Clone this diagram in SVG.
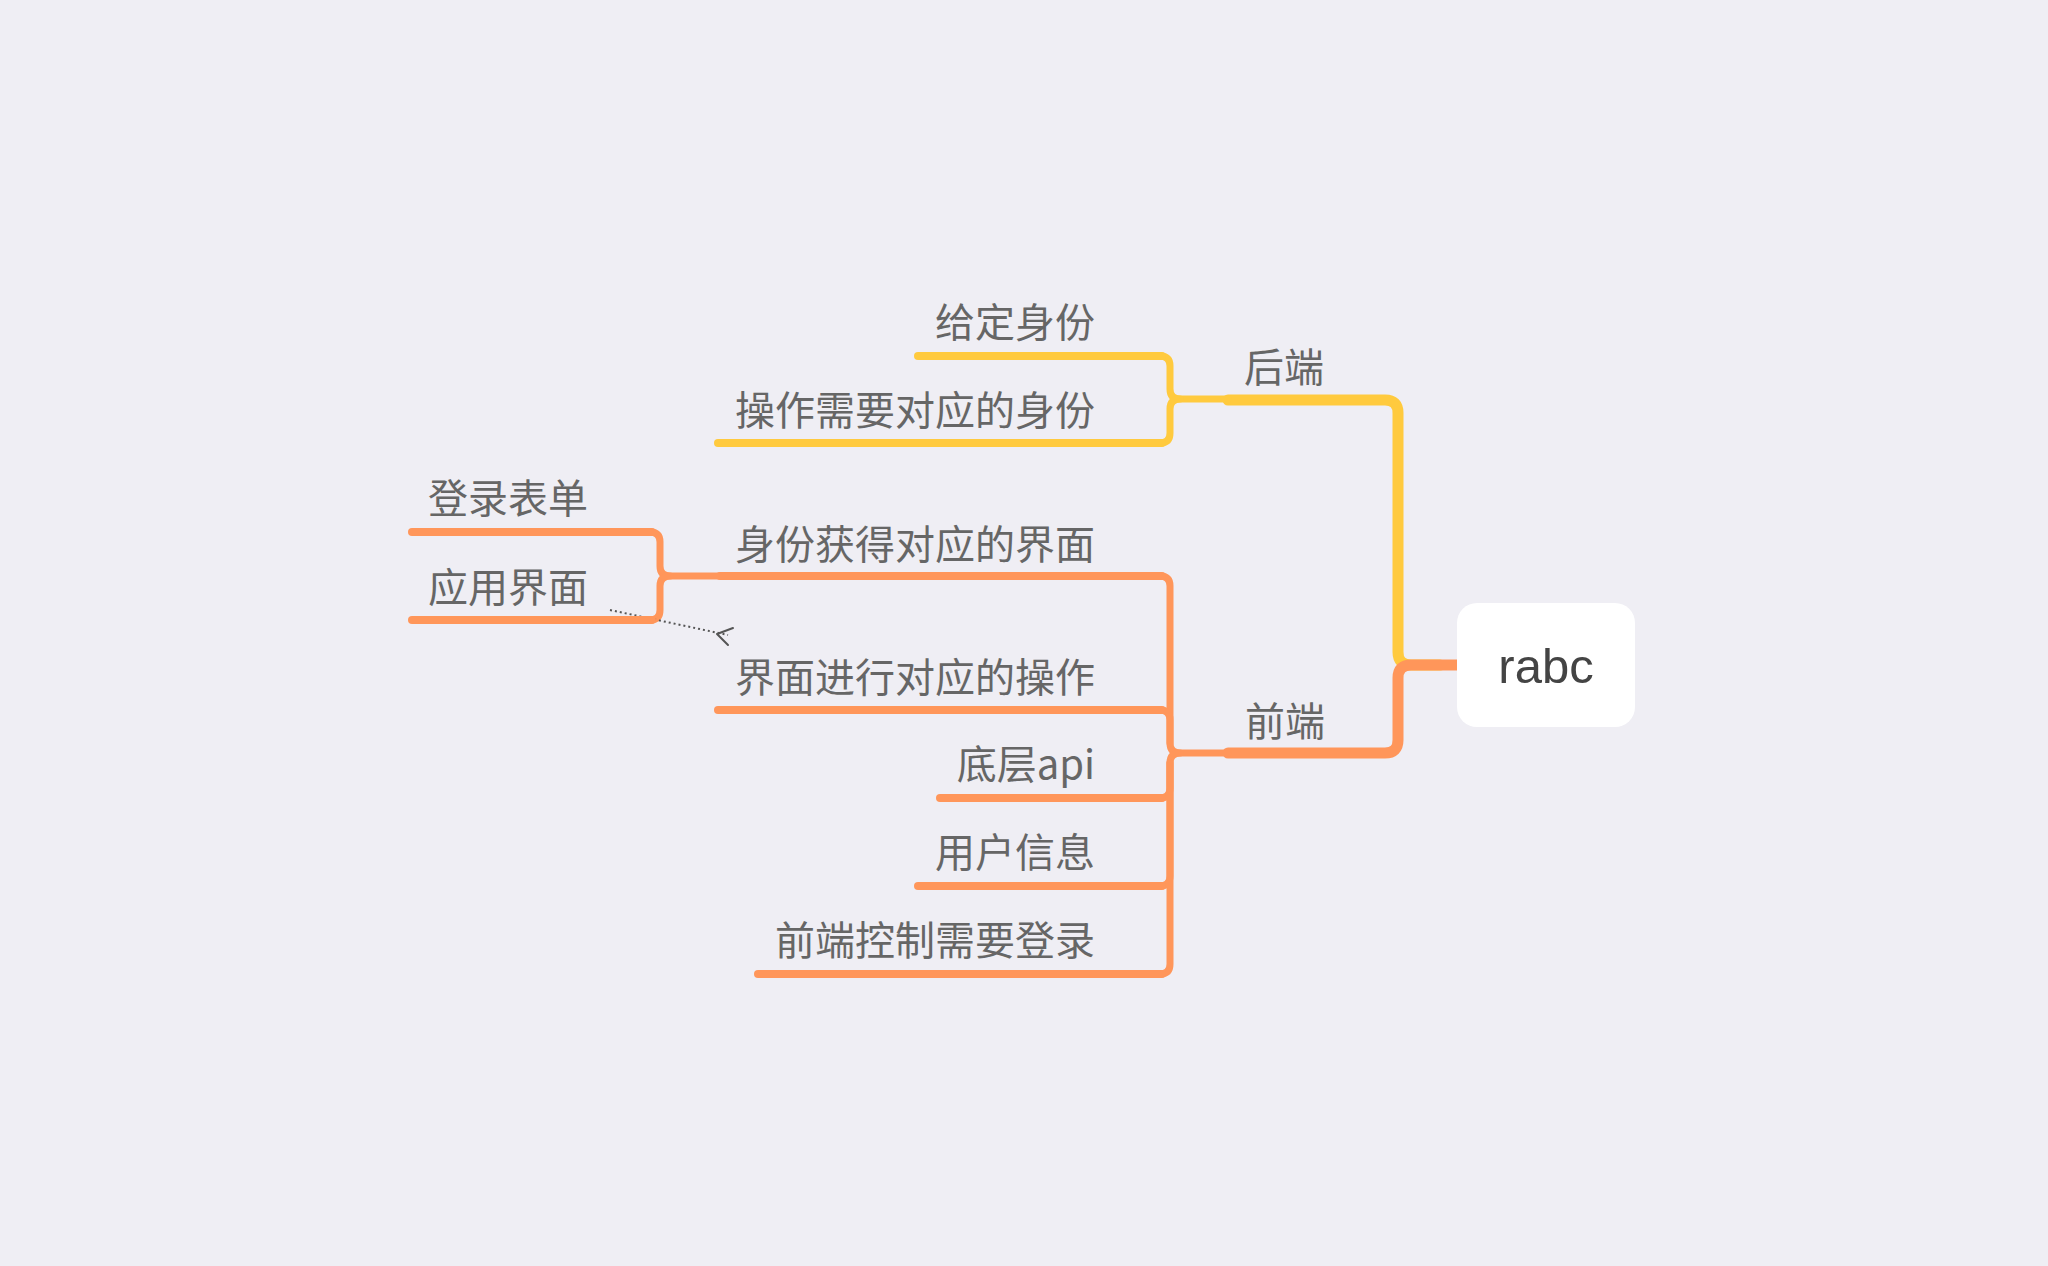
<svg xmlns="http://www.w3.org/2000/svg" width="2048" height="1266" viewBox="0 0 2048 1266">
<style>
.t{font-family:"Noto Sans CJK SC","Noto Sans",sans-serif;font-size:40px;fill:#666666}
.y{fill:none;stroke:#FFCA3E;stroke-linecap:round;stroke-linejoin:round}
.o{fill:none;stroke:#FF965A;stroke-linecap:round;stroke-linejoin:round}
.u{stroke-width:8}
.c{stroke-width:7}
.m{stroke-width:11}
</style>
<rect width="2048" height="1266" fill="#EFEEF4"/>
<g id="connectors">
<path class="y m" d="M1228,400 H1385 Q1398,400 1398,413 V652 Q1398,665 1411,665 H1440"/>
<path class="o m" d="M1457,665 H1411 Q1398,665 1398,678 V740 Q1398,753 1385,753 H1228"/>
<path class="y c" d="M1160,356 Q1170,356 1170,366 V389 Q1170,399 1180,399 H1228"/>
<path class="y c" d="M1160,443 Q1170,443 1170,433 V409 Q1170,399 1180,399"/>
<path class="o c" d="M1160,576 Q1170,576 1170,586 V743 Q1170,753 1180,753 H1228"/>
<path class="o c" d="M1160,710 Q1170,710 1170,720 V743"/>
<path class="o c" d="M1160,798 Q1170,798 1170,788 V763 Q1170,753 1180,753"/>
<path class="o c" d="M1160,886 Q1170,886 1170,876 V763"/>
<path class="o c" d="M1160,974 Q1170,974 1170,964 V763"/>
<path class="o c" d="M650,532 Q660,532 660,542 V566 Q660,576 670,576 H720"/>
<path class="o c" d="M650,620 Q660,620 660,610 V586 Q660,576 670,576"/>
<path d="M610,610 L728,635" fill="none" stroke="#555555" stroke-width="2" stroke-dasharray="2 3"/>
<path d="M733,628 L717,634 L728,645" fill="none" stroke="#555555" stroke-width="2" stroke-linecap="round" stroke-linejoin="round"/>
</g>
<g id="root">
<rect x="1457" y="603" width="178" height="124" rx="20" fill="#FFFFFF"/>
<text x="1546" y="683" text-anchor="middle" style="font-family:'Liberation Sans',Arial,sans-serif;font-size:49px;fill:#444444">rabc</text>
</g>
<g id="n-houduan">
<text class="t" x="1244" y="382">后端</text>
</g>
<g id="n-geidingshenfen">
<path class="y u" d="M918,356 H1162"/>
<text class="t" x="1095" y="337" text-anchor="end">给定身份</text>
</g>
<g id="n-caozuo">
<path class="y u" d="M718,443 H1162"/>
<text class="t" x="1095" y="425" text-anchor="end">操作需要对应的身份</text>
</g>
<g id="n-qianduan">
<text class="t" x="1245" y="736">前端</text>
</g>
<g id="n-shenfenhuode">
<path class="o u" d="M720,576 H1162"/>
<text class="t" x="1095" y="559" text-anchor="end">身份获得对应的界面</text>
</g>
<g id="n-denglubiaodan">
<path class="o u" d="M412,532 H652"/>
<text class="t" x="428" y="513">登录表单</text>
</g>
<g id="n-yingyongjiemian">
<path class="o u" d="M412,620 H652"/>
<text class="t" x="428" y="602">应用界面</text>
</g>
<g id="n-jiemianjinxing">
<path class="o u" d="M718,710 H1162"/>
<text class="t" x="1095" y="692" text-anchor="end">界面进行对应的操作</text>
</g>
<g id="n-dicengapi">
<path class="o u" d="M940,798 H1162"/>
<text class="t" x="1095" y="779" text-anchor="end">底层api</text>
</g>
<g id="n-yonghuxinxi">
<path class="o u" d="M918,886 H1162"/>
<text class="t" x="1095" y="867" text-anchor="end">用户信息</text>
</g>
<g id="n-qianduankongzhi">
<path class="o u" d="M758,974 H1162"/>
<text class="t" x="1095" y="955" text-anchor="end">前端控制需要登录</text>
</g>
</svg>
